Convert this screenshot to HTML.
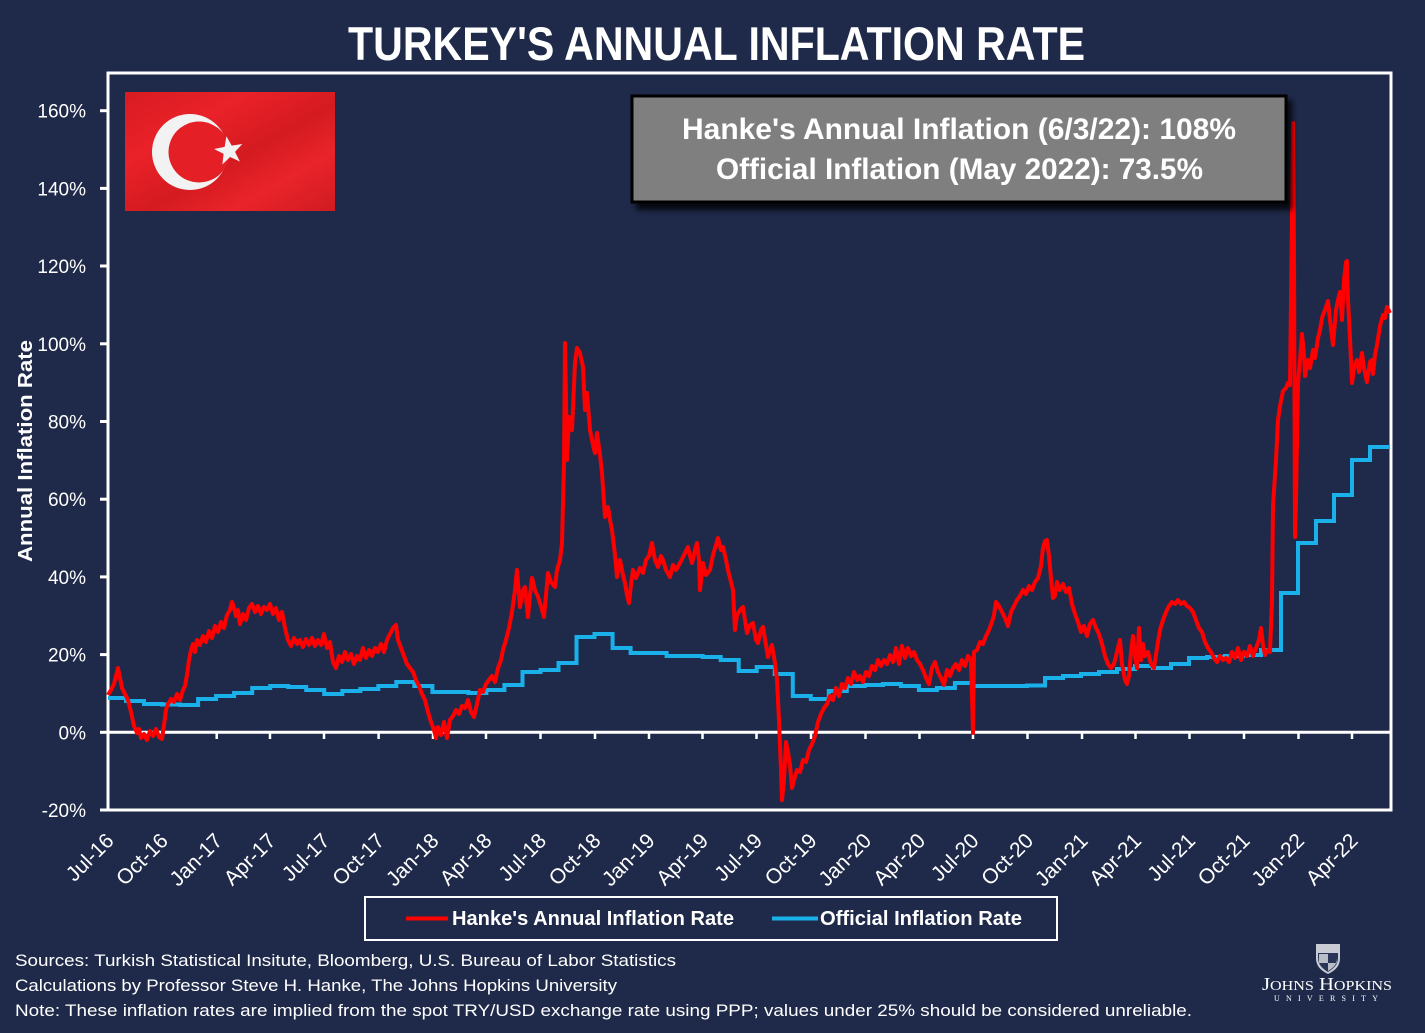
<!DOCTYPE html>
<html><head><meta charset="utf-8"><style>
html,body{margin:0;padding:0;background:#1f2a4a;}
svg{display:block;}
text{font-family:"Liberation Sans",sans-serif;fill:#fff;}
</style></head><body>
<svg width="1425" height="1033" viewBox="0 0 1425 1033" xmlns="http://www.w3.org/2000/svg">
<defs>
<filter id="sh" x="-10%" y="-20%" width="120%" height="150%"><feGaussianBlur stdDeviation="3"/></filter>
<linearGradient id="fl" x1="0" y1="0" x2="1" y2="1">
<stop offset="0" stop-color="#d81c22"/><stop offset="0.3" stop-color="#ea2128"/><stop offset="0.55" stop-color="#d41b20"/><stop offset="0.75" stop-color="#e9242a"/><stop offset="1" stop-color="#cf1b21"/>
</linearGradient>
</defs>
<rect width="1425" height="1033" fill="#1f2a4a"/>
<!-- Title -->
<text x="348" y="60" font-size="47" font-weight="bold" textLength="737" lengthAdjust="spacingAndGlyphs">TURKEY'S ANNUAL INFLATION RATE</text>

<!-- flag -->
<rect x="125" y="92" width="210" height="119" fill="url(#fl)"/>
<circle cx="190" cy="152" r="38" fill="#f2f2f2"/>
<circle cx="199" cy="152" r="30.5" fill="#e41f26"/>
<polygon fill="#f2f2f2" points="229,136 232.6,146.2 243.3,146.4 234.8,152.9 237.9,163.2 229,157.1 220.1,163.2 223.2,152.9 214.7,146.4 225.4,146.2" transform="rotate(-10 229 151)"/>

<!-- y axis ticks & labels -->
<g stroke="#fff" stroke-width="3">
<line x1="100" y1="110.7" x2="108" y2="110.7"/>
<line x1="100" y1="188.4" x2="108" y2="188.4"/>
<line x1="100" y1="266" x2="108" y2="266"/>
<line x1="100" y1="343.8" x2="108" y2="343.8"/>
<line x1="100" y1="421.5" x2="108" y2="421.5"/>
<line x1="100" y1="499.2" x2="108" y2="499.2"/>
<line x1="100" y1="576.9" x2="108" y2="576.9"/>
<line x1="100" y1="654.6" x2="108" y2="654.6"/>
<line x1="100" y1="732.3" x2="108" y2="732.3"/>
<line x1="100" y1="810" x2="108" y2="810"/>
</g>
<g font-size="19" text-anchor="end">
<text x="86" y="117.7">160%</text>
<text x="86" y="195.4">140%</text>
<text x="86" y="273">120%</text>
<text x="86" y="350.8">100%</text>
<text x="86" y="428.5">80%</text>
<text x="86" y="506.2">60%</text>
<text x="86" y="583.9">40%</text>
<text x="86" y="661.6">20%</text>
<text x="86" y="739.3">0%</text>
<text x="86" y="817">-20%</text>
</g>
<text transform="translate(32,451) rotate(-90)" font-size="20" font-weight="bold" text-anchor="middle" textLength="222" lengthAdjust="spacingAndGlyphs">Annual Inflation Rate</text>

<!-- frame -->
<rect x="108" y="73" width="1283" height="737" fill="none" stroke="#fff" stroke-width="3"/>
<line x1="108" y1="732.3" x2="1391" y2="732.3" stroke="#fff" stroke-width="3"/>
<g stroke="#fff" stroke-width="2.5">
<line x1="162.3" y1="732" x2="162.3" y2="739"/><line x1="216.7" y1="732" x2="216.7" y2="739"/><line x1="270" y1="732" x2="270" y2="739"/><line x1="324" y1="732" x2="324" y2="739"/><line x1="378.6" y1="732" x2="378.6" y2="739"/><line x1="433" y1="732" x2="433" y2="739"/><line x1="486" y1="732" x2="486" y2="739"/><line x1="540.5" y1="732" x2="540.5" y2="739"/><line x1="595" y1="732" x2="595" y2="739"/><line x1="649" y1="732" x2="649" y2="739"/><line x1="702.5" y1="732" x2="702.5" y2="739"/><line x1="756.5" y1="732" x2="756.5" y2="739"/><line x1="811" y1="732" x2="811" y2="739"/><line x1="865.5" y1="732" x2="865.5" y2="739"/><line x1="919.5" y1="732" x2="919.5" y2="739"/><line x1="973" y1="732" x2="973" y2="739"/><line x1="1027.5" y1="732" x2="1027.5" y2="739"/><line x1="1082" y1="732" x2="1082" y2="739"/><line x1="1135.5" y1="732" x2="1135.5" y2="739"/><line x1="1189.5" y1="732" x2="1189.5" y2="739"/><line x1="1244" y1="732" x2="1244" y2="739"/><line x1="1298.5" y1="732" x2="1298.5" y2="739"/><line x1="1352" y1="732" x2="1352" y2="739"/>
</g>

<!-- x labels -->
<g font-size="21" text-anchor="end">
<text transform="translate(115,842) rotate(-45)">Jul-16</text>
<text transform="translate(169.3,842) rotate(-45)">Oct-16</text>
<text transform="translate(223.7,842) rotate(-45)">Jan-17</text>
<text transform="translate(277,842) rotate(-45)">Apr-17</text>
<text transform="translate(331,842) rotate(-45)">Jul-17</text>
<text transform="translate(385.6,842) rotate(-45)">Oct-17</text>
<text transform="translate(440,842) rotate(-45)">Jan-18</text>
<text transform="translate(493,842) rotate(-45)">Apr-18</text>
<text transform="translate(547.5,842) rotate(-45)">Jul-18</text>
<text transform="translate(602,842) rotate(-45)">Oct-18</text>
<text transform="translate(656,842) rotate(-45)">Jan-19</text>
<text transform="translate(709.5,842) rotate(-45)">Apr-19</text>
<text transform="translate(763.5,842) rotate(-45)">Jul-19</text>
<text transform="translate(818,842) rotate(-45)">Oct-19</text>
<text transform="translate(872.5,842) rotate(-45)">Jan-20</text>
<text transform="translate(926.5,842) rotate(-45)">Apr-20</text>
<text transform="translate(980,842) rotate(-45)">Jul-20</text>
<text transform="translate(1034.5,842) rotate(-45)">Oct-20</text>
<text transform="translate(1089,842) rotate(-45)">Jan-21</text>
<text transform="translate(1142.5,842) rotate(-45)">Apr-21</text>
<text transform="translate(1196.5,842) rotate(-45)">Jul-21</text>
<text transform="translate(1251,842) rotate(-45)">Oct-21</text>
<text transform="translate(1305.5,842) rotate(-45)">Jan-22</text>
<text transform="translate(1359,842) rotate(-45)">Apr-22</text>
</g>

<!-- official (blue) -->
<path fill="none" stroke="#1ab0ea" stroke-width="4" stroke-linejoin="miter" d="M108,698 H126 V701 H144 V704 H162.1 V704.5 H180.1 V705 H198.1 V699 H216.1 V696 H234.1 V693 H252.2 V688 H270.2 V686 H288.2 V687 H306.2 V690 H324.2 V694 H342.3 V691 H360.3 V689 H378.3 V686 H396.3 V682 H414.3 V686 H432.4 V692 H450.4 V692 H468.4 V693 H486.4 V690 H504.4 V685 H522.5 V672 H540.5 V670 H558.5 V663 H576.5 V637 H594.5 V634 H612.6 V648 H630.6 V653 H648.6 V653 H666.6 V656 H684.6 V656 H702.7 V657 H720.7 V660 H738.7 V671 H756.7 V667 H774.7 V674 H792.8 V696 H810.8 V699 H828.8 V691 H846.8 V686 H864.8 V685 H882.9 V684 H900.9 V686 H918.9 V690 H936.9 V688 H954.9 V683 H973 V686 H991 V686 H1009 V686 H1027 V685.5 H1045 V678 H1063 V676 H1081 V674 H1099 V672 H1117 V669 H1135 V666 H1153 V668 H1171 V664 H1189 V658 H1207 V657 H1225 V656 H1243 V655 H1261 V650 H1281 V593 H1298 V543 H1316 V521 H1334 V495 H1352 V460 H1370 V447 H1390"/>

<!-- Hanke (red) -->
<path fill="none" stroke="#ff0000" stroke-width="4" stroke-linejoin="round" d="M108,695 L111,690 L114,684 L116,676 L118,668 L120,678 L122,688 L125,694 L128,700 L131,712 L134,726 L137,733 L139,729 L141,738 L144,734 L147,740 L150,731 L153,736 L156,729 L159,737 L162,739 L164,725 L166,710 L168,704 L171,699 L174,702 L177,694 L180,700 L183,690 L185,686 L187,675 L189,660 L191,650 L193,644 L195,652 L197,640 L200,645 L203,636 L206,642 L209,631 L212,638 L215,626 L218,632 L221,622 L224,628 L227,615 L230,610 L232,602 L234,608 L236,616 L238,610 L240,624 L243,614 L246,620 L249,608 L252,604 L255,612 L258,606 L261,614 L264,607 L267,610 L270,604 L273,614 L276,608 L279,620 L282,612 L285,628 L288,640 L291,646 L294,638 L297,644 L300,640 L303,647 L306,639 L309,645 L312,638 L315,646 L318,640 L321,645 L324,634 L327,648 L330,642 L333,662 L336,668 L339,656 L342,662 L345,652 L348,660 L351,654 L354,664 L357,656 L360,660 L363,648 L366,658 L369,650 L372,656 L375,648 L378,652 L381,644 L384,652 L387,640 L390,634 L393,628 L396,625 L398,640 L401,648 L404,656 L407,664 L410,668 L413,672 L416,680 L419,686 L422,694 L425,700 L428,712 L431,722 L434,730 L436,738 L438,727 L441,735 L444,722 L447,738 L450,720 L453,716 L456,710 L459,714 L462,706 L465,708 L468,700 L471,712 L474,717 L477,704 L480,690 L483,692 L486,684 L489,680 L492,676 L495,682 L498,668 L501,660 L503,650 L506,640 L509,628 L512,612 L515,590 L517,570 L520,607 L523,590 L525,587 L528,617 L530,595 L532,578 L535,590 L538,597 L541,606 L544,617 L546,595 L548,573 L551,582 L555,587 L557,570 L560,560 L562,543 L564,463 L565,343 L566,400 L567,460 L569,417 L572,430 L575,363 L577,348 L580,353 L583,367 L585,410 L587,393 L590,430 L593,445 L595,453 L597,433 L600,455 L602,473 L605,517 L608,507 L610,520 L612,530 L615,555 L617,577 L620,560 L623,575 L625,583 L627,595 L629,603 L631,585 L633,570 L636,578 L640,568 L643,573 L646,560 L649,556 L652,543 L655,560 L658,567 L661,556 L663,560 L666,570 L670,577 L673,565 L676,570 L680,563 L684,555 L688,547 L690,556 L692,563 L695,550 L697,543 L699,560 L700,590 L703,563 L706,575 L710,570 L713,555 L716,545 L718,538 L721,550 L723,547 L726,560 L728,570 L731,582 L733,590 L735,630 L737,615 L740,610 L743,607 L745,620 L747,633 L750,625 L753,623 L756,640 L758,643 L761,630 L763,627 L766,645 L768,657 L770,650 L772,645 L775,663 L777,680 L779,720 L781,770 L782,800 L784,780 L786,742 L788,752 L790,765 L792,788 L794,780 L797,770 L800,772 L803,760 L806,762 L809,750 L812,744 L815,736 L818,722 L821,714 L824,708 L827,704 L830,696 L833,700 L836,688 L839,696 L842,684 L845,688 L848,678 L851,684 L854,672 L857,680 L860,676 L863,682 L866,672 L869,676 L872,666 L875,670 L878,660 L881,666 L884,660 L887,664 L890,655 L893,662 L896,648 L899,664 L902,646 L905,658 L908,648 L911,656 L914,652 L917,660 L920,664 L923,670 L926,678 L929,684 L932,668 L935,662 L938,672 L941,678 L944,685 L947,670 L950,676 L953,668 L956,664 L959,670 L962,660 L965,666 L968,656 L971,660 L973,733 L974,652 L977,650 L980,642 L983,644 L986,636 L989,630 L992,622 L994,615 L996,602 L999,606 L1002,612 L1005,618 L1008,626 L1011,612 L1014,606 L1017,600 L1020,596 L1023,590 L1026,594 L1029,586 L1032,590 L1035,582 L1038,578 L1041,566 L1043,548 L1045,541 L1047,540 L1049,556 L1051,578 L1053,598 L1055,596 L1057,582 L1060,590 L1063,584 L1066,592 L1069,588 L1072,604 L1075,614 L1078,622 L1081,632 L1084,626 L1087,636 L1090,624 L1093,620 L1096,628 L1099,634 L1102,644 L1105,656 L1108,664 L1111,668 L1114,664 L1117,652 L1120,640 L1122,664 L1125,680 L1127,684 L1129,676 L1131,652 L1133,636 L1135,656 L1137,668 L1139,628 L1141,660 L1143,644 L1145,656 L1148,652 L1151,664 L1154,668 L1157,648 L1160,630 L1163,620 L1166,612 L1169,606 L1172,602 L1175,604 L1178,600 L1181,604 L1184,602 L1187,606 L1190,608 L1193,612 L1196,620 L1199,628 L1202,632 L1205,642 L1208,648 L1211,652 L1214,658 L1217,662 L1220,656 L1223,660 L1226,658 L1229,662 L1232,652 L1235,658 L1238,648 L1241,660 L1244,652 L1247,656 L1250,646 L1253,656 L1256,648 L1259,640 L1261,628 L1263,645 L1265,655 L1268,650 L1270,652 L1272,600 L1273,506 L1276,460 L1278,420 L1280,406 L1283,391 L1286,388 L1288,383 L1290,385 L1292,215 L1293,123 L1294,250 L1295,537 L1296,500 L1298,383 L1300,360 L1302,334 L1304,355 L1305,376 L1308,360 L1310,368 L1313,350 L1315,358 L1318,338 L1320,330 L1322,318 L1325,310 L1328,301 L1330,320 L1333,345 L1336,310 L1338,300 L1340,292 L1342,320 L1344,280 L1346,262 L1347,261 L1348,300 L1350,338 L1352,383 L1354,368 L1357,360 L1359,372 L1362,353 L1364,368 L1367,382 L1370,362 L1372,360 L1373,374 L1375,355 L1377,345 L1380,326 L1383,315 L1385,318 L1387,307 L1390,313"/>

<!-- annotation box -->
<rect x="636" y="100" width="656" height="110" fill="#000" opacity="0.8" filter="url(#sh)"/>
<rect x="632" y="96" width="654" height="106" fill="#7f7f7f" stroke="#000" stroke-width="3"/>
<text x="682" y="139" font-size="30" font-weight="bold" textLength="554" lengthAdjust="spacingAndGlyphs">Hanke's Annual Inflation (6/3/22): 108%</text>
<text x="716" y="179" font-size="30" font-weight="bold" textLength="487" lengthAdjust="spacingAndGlyphs">Official Inflation (May 2022): 73.5%</text>

<!-- legend -->
<rect x="365" y="897" width="692" height="43" fill="none" stroke="#fff" stroke-width="2"/>
<line x1="406" y1="918.5" x2="448" y2="918.5" stroke="#ff0000" stroke-width="4"/>
<text x="452" y="925" font-size="20" font-weight="bold" textLength="282" lengthAdjust="spacingAndGlyphs">Hanke's Annual Inflation Rate</text>
<line x1="772" y1="918.5" x2="818" y2="918.5" stroke="#1ab0ea" stroke-width="4"/>
<text x="820" y="925" font-size="20" font-weight="bold" textLength="202" lengthAdjust="spacingAndGlyphs">Official Inflation Rate</text>

<!-- footer -->
<text x="15" y="966" font-size="17" textLength="661" lengthAdjust="spacingAndGlyphs">Sources: Turkish Statistical Insitute, Bloomberg, U.S. Bureau of Labor Statistics</text>
<text x="15" y="991" font-size="17" textLength="602" lengthAdjust="spacingAndGlyphs">Calculations by Professor Steve H. Hanke, The Johns Hopkins University</text>
<text x="15" y="1016" font-size="17" textLength="1177" lengthAdjust="spacingAndGlyphs">Note: These inflation rates are implied from the spot TRY/USD exchange rate using PPP; values under 25% should be considered unreliable.</text>

<!-- JHU logo -->
<path d="M1316,944 H1340 V958 C1340,967 1334,971 1328,974 C1322,971 1316,967 1316,958 Z" fill="#c9ccd4"/>
<path d="M1318,953 H1338 V958 C1338,965 1333,969 1328,972 C1323,969 1318,965 1318,958 Z" fill="#2a3558"/>
<path d="M1319,954 H1328 V963 H1319 Z M1328,963 H1337 V958 C1337,965 1333,968 1328,971 Z" fill="#b9bdc7"/>
<text x="1262" y="990" font-size="18" fill="#dfe2e8" textLength="130" lengthAdjust="spacingAndGlyphs" style="font-family:'Liberation Serif',serif">J<tspan font-size="14">OHNS</tspan> H<tspan font-size="14">OPKINS</tspan></text>
<text x="1274" y="1001" font-size="8" fill="#dfe2e8" textLength="104" lengthAdjust="spacing" style="font-family:'Liberation Serif',serif">UNIVERSITY</text>
</svg>
</body></html>
